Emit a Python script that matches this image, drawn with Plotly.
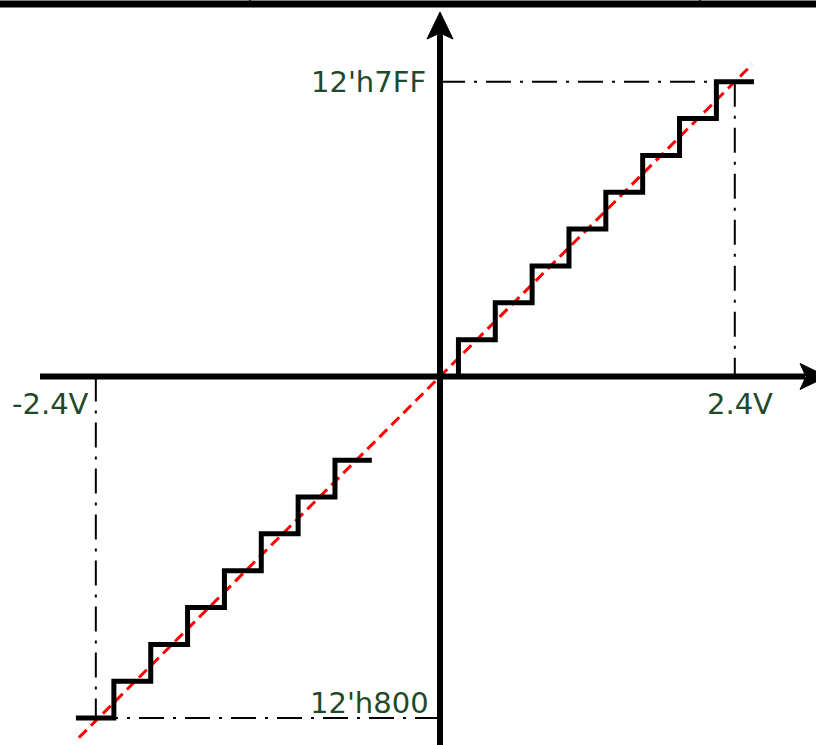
import plotly.graph_objects as go

# ---- data (in LSB-step units) ----
pos_vin = [0, 0.5, 1.5, 2.5, 3.5, 4.5, 5.5, 6.5, 7.5, 8.52]
pos_code = [0, 1, 2, 3, 4, 5, 6, 7, 8, 8]
neg_vin = [-9.88, -8.85, -7.85, -6.85, -5.85, -4.85, -3.85, -2.85, -1.85]
neg_code = [-9.27, -8.27, -7.27, -6.27, -5.27, -4.27, -3.27, -2.27, -2.27]
ideal_vin = [-9.8, 8.47]
ideal_code = [-9.8, 8.47]
vfs_pos, code_max = 8.0, 8.0
vfs_neg, code_min = -9.34, -9.27
labels = {"vmax": "2.4V", "vmin": "-2.4V", "cmax": "12'h7FF", "cmin": "12'h800"}

W, H = 816, 745
OX, OY, S = 440, 376.5, 36.85


def dx(p):
    return (p - OX) / S


def dy(p):
    return (OY - p) / S


fig = go.Figure()

# ideal transfer line
fig.add_trace(go.Scatter(x=ideal_vin, y=ideal_code, mode="lines",
                         line=dict(color="#ff0000", width=3, dash="11px,6px"),
                         hoverinfo="skip", showlegend=False))
# staircases
for xs, ys in [(pos_vin, pos_code), (neg_vin, neg_code)]:
    fig.add_trace(go.Scatter(x=xs, y=ys, mode="lines", line_shape="hv",
                             line=dict(color="black", width=5),
                             hoverinfo="skip", showlegend=False))

shapes = []
dd = "25px,9px,3px,9px"
# guide lines (dash-dot)
shapes += [
    dict(type="line", x0=0, x1=vfs_pos, y0=code_max, y1=code_max,
         line=dict(color="black", width=2, dash=dd)),
    dict(type="line", x0=vfs_pos, x1=vfs_pos, y0=code_max, y1=0,
         line=dict(color="black", width=2, dash=dd)),
    dict(type="line", x0=0, x1=neg_vin[0], y0=code_min, y1=code_min,
         line=dict(color="black", width=2, dash=dd)),
    dict(type="line", x0=vfs_neg, x1=vfs_neg, y0=0, y1=code_min,
         line=dict(color="black", width=2, dash=dd)),
]
shapes = [dict(s, layer="below") for s in shapes]
# axes
shapes += [
    dict(type="line", x0=dx(40), x1=dx(805), y0=0, y1=0,
         line=dict(color="black", width=6)),
    dict(type="line", x0=0, x1=0, y0=dy(750), y1=dy(25),
         line=dict(color="black", width=6)),
]
# arrowheads
ya = [(440, 12), (453, 39), (440, 33), (427, 39)]
xa = [(827, 376.5), (800, 363.5), (806, 376.5), (800, 389.5)]
for pts in (ya, xa):
    path = "M " + " L ".join(f"{dx(a)},{dy(b)}" for a, b in pts) + " Z"
    shapes.append(dict(type="path", path=path, fillcolor="black",
                       line=dict(color="black", width=1)))
# top border
shapes += [
    dict(type="line", xref="paper", yref="paper", x0=0, x1=1,
         y0=1 - 4 / H, y1=1 - 4 / H, line=dict(color="black", width=7)),
    dict(type="line", xref="paper", yref="paper", x0=250 / W, x1=250 / W,
         y0=1, y1=1 - 4 / H, line=dict(color="black", width=1.5)),
    dict(type="line", xref="paper", yref="paper", x0=700 / W, x1=700 / W,
         y0=1, y1=1 - 4 / H, line=dict(color="black", width=1.5)),
]

font = dict(family="DejaVu Sans", size=29, color="#1e4a2b")
ann = [
    dict(x=dx(428), y=dy(82), text=labels["cmax"], xanchor="right", yanchor="middle"),
    dict(x=dx(431), y=dy(703), text=labels["cmin"], xanchor="right", yanchor="middle"),
    dict(x=dx(740), y=dy(404), text=labels["vmax"], xanchor="center", yanchor="middle"),
    dict(x=dx(50), y=dy(404), text=labels["vmin"], xanchor="center", yanchor="middle"),
]
for a in ann:
    a.update(showarrow=False, font=font)

fig.update_layout(
    width=W, height=H, margin=dict(l=0, r=0, t=0, b=0),
    plot_bgcolor="white", paper_bgcolor="white",
    xaxis=dict(range=[dx(0), dx(W)], visible=False, fixedrange=True),
    yaxis=dict(range=[dy(H), dy(0)], visible=False, fixedrange=True),
    shapes=shapes, annotations=ann, showlegend=False,
)
fig.write_html("out.html", config={"displayModeBar": False},
               post_script="document.body.style.margin='0';")
